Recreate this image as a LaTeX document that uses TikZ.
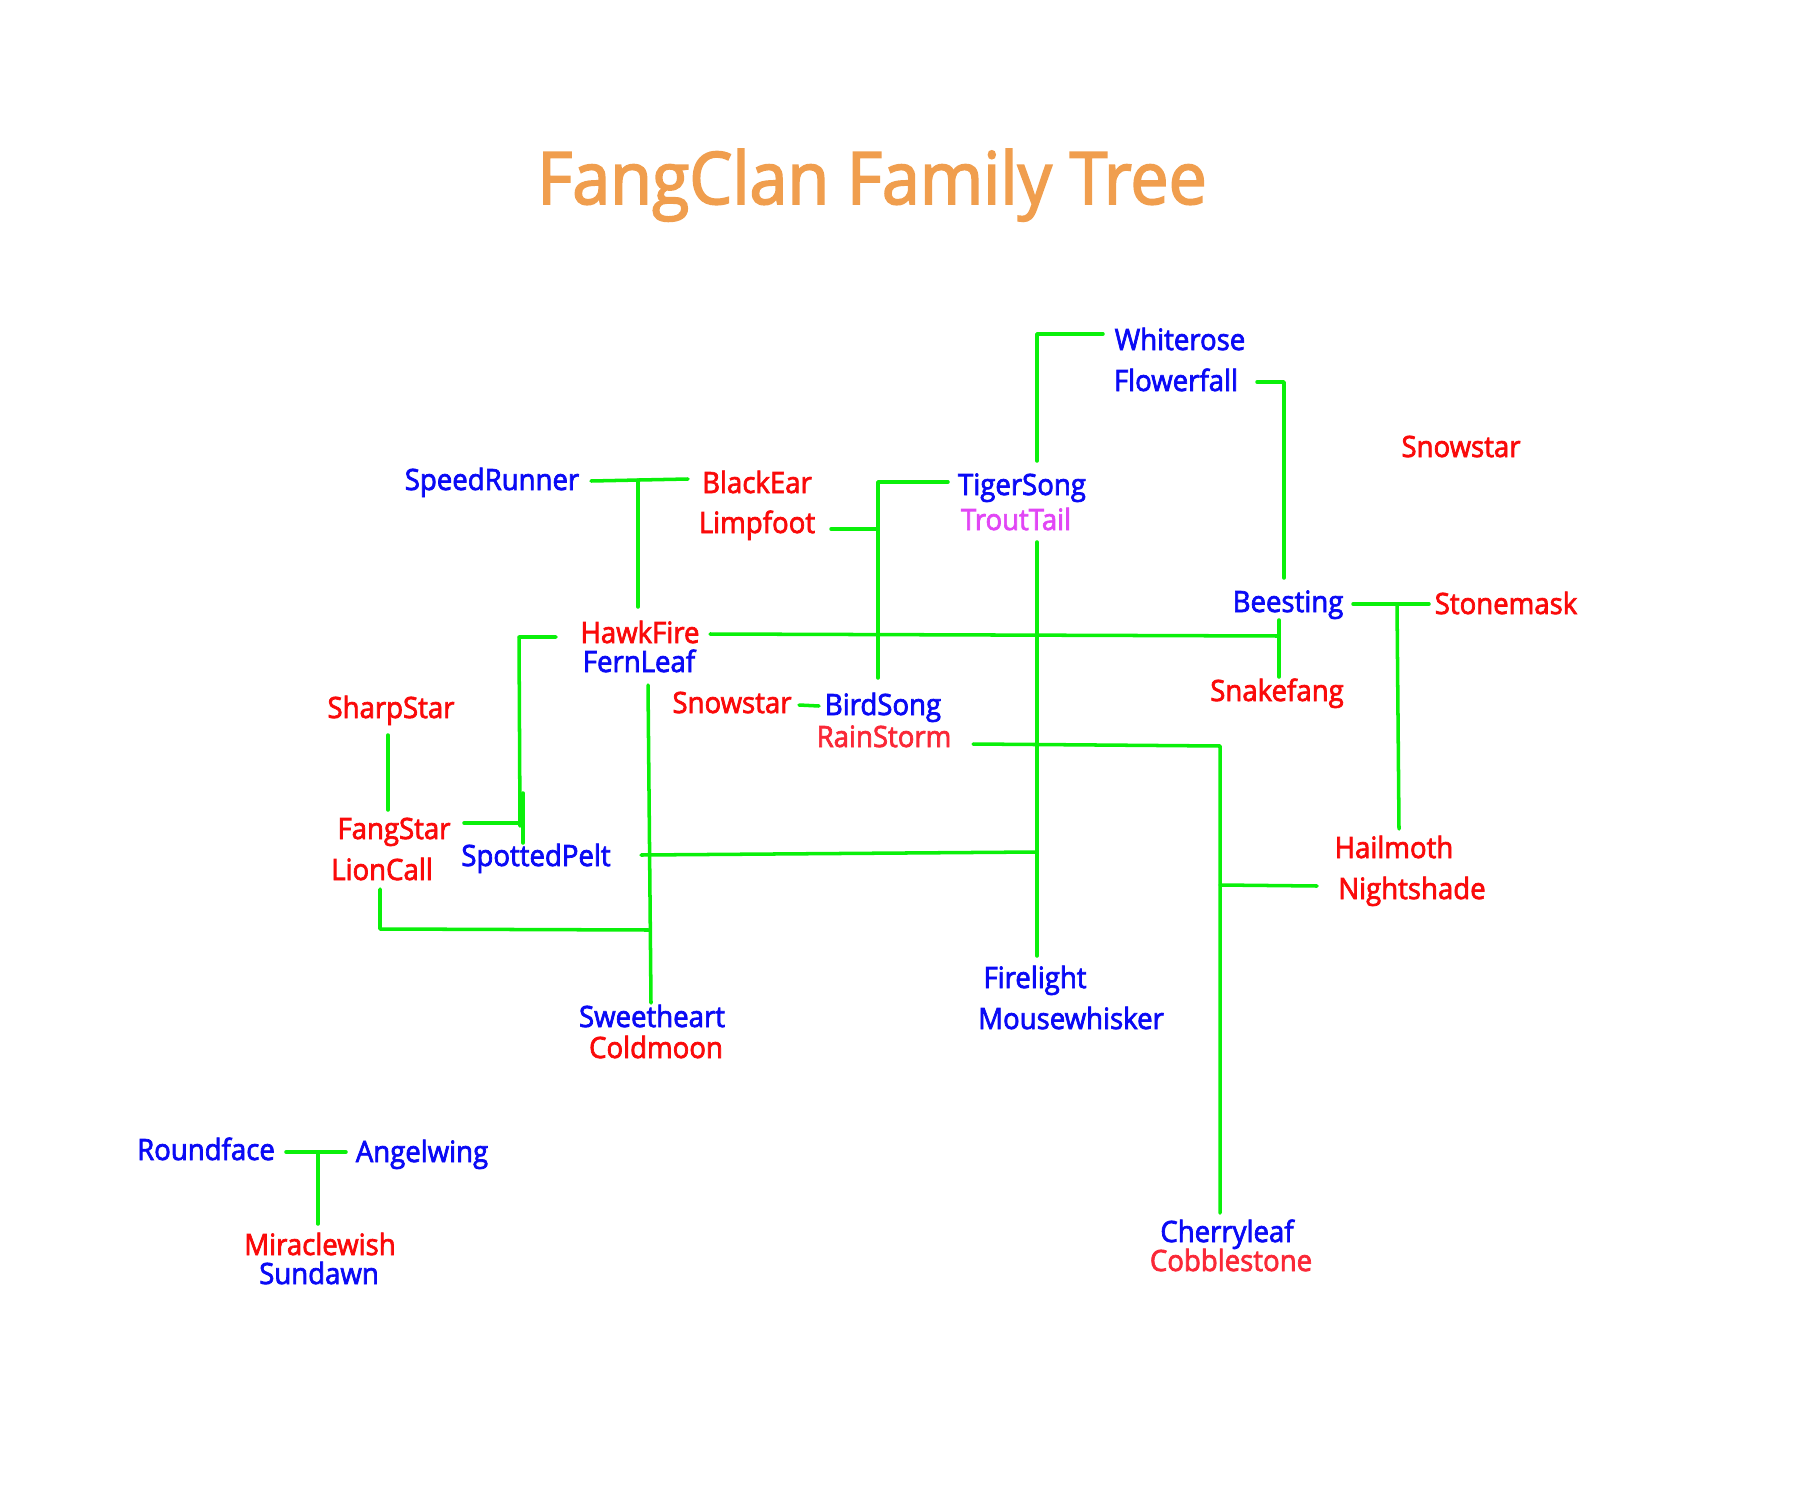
\documentclass[tikz,border=0pt]{standalone}
\usepackage{fontspec}
\setmainfont{Open Sans}[FakeStretch=0.94, FakeBold=2.4]
\definecolor{cblue}{RGB}{10,10,245}
\definecolor{cred}{RGB}{250,10,10}
\definecolor{cred2}{RGB}{250,40,55}
\definecolor{cmag}{RGB}{225,70,245}
\definecolor{lgreen}{RGB}{10,240,10}
\definecolor{ctitle}{RGB}{240,158,78}
\tikzset{
  nm/.style={anchor=base, inner sep=0pt, font=\fontsize{8.34}{10}\selectfont},
  bluename/.style={nm, text=cblue},
  redname/.style={nm, text=cred},
  redname2/.style={nm, text=cred2},
  magname/.style={nm, text=cmag},
  titlestyle/.style={anchor=base, inner sep=0pt, text=ctitle, font=\fontsize{20.6}{24}\selectfont},
  link/.style={draw=lgreen, line width=1pt, line cap=round, line join=round}
}
\begin{document}
\begin{tikzpicture}[x=0.01cm, y=-0.01cm]
\useasboundingbox (0,0) rectangle (1800,1500);
% title
\node[titlestyle] (title) at (872,204) {FangClan Family Tree};
% names
\node[bluename] (whiterose) at (1180,350) {Whiterose};
\node[bluename] (flowerfall) at (1176,391) {Flowerfall};
\node[redname] (snowstarR) at (1461,457) {Snowstar};
\node[bluename] (speedrunner) at (492,490) {SpeedRunner};
\node[redname] (blackear) at (757,493) {BlackEar};
\node[redname] (limpfoot) at (757,533) {Limpfoot};
\node[bluename] (tigersong) at (1022,495) {TigerSong};
\node[magname] (trouttail) at (1016,530) {TroutTail};
\node[bluename] (beesting) at (1288,612) {Beesting};
\node[redname] (stonemask) at (1506,614) {Stonemask};
\node[redname] (hawkfire) at (640,643) {HawkFire};
\node[bluename] (fernleaf) at (639,672) {FernLeaf};
\node[redname] (snakefang) at (1277,701) {Snakefang};
\node[redname] (sharpstar) at (391,718) {SharpStar};
\node[redname] (snowstarM) at (732,713) {Snowstar};
\node[bluename] (birdsong) at (883,715) {BirdSong};
\node[redname2] (rainstorm) at (884,747) {RainStorm};
\node[redname] (fangstar) at (394,839) {FangStar};
\node[redname] (lioncall) at (382,880) {LionCall};
\node[bluename] (spottedpelt) at (536,866) {SpottedPelt};
\node[redname] (hailmoth) at (1394,858) {Hailmoth};
\node[redname] (nightshade) at (1412,899) {Nightshade};
\node[bluename] (firelight) at (1035,988) {Firelight};
\node[bluename] (mousewhisker) at (1071,1029) {Mousewhisker};
\node[bluename] (sweetheart) at (652,1027) {Sweetheart};
\node[redname] (coldmoon) at (656,1058) {Coldmoon};
\node[bluename] (roundface) at (206,1160) {Roundface};
\node[bluename] (angelwing) at (422,1162) {Angelwing};
\node[redname] (miraclewish) at (320,1255) {Miraclewish};
\node[bluename] (sundawn) at (319,1284) {Sundawn};
\node[bluename] (cherryleaf) at (1227,1242) {Cherryleaf};
\node[redname2] (cobblestone) at (1231,1271) {Cobblestone};
% connector points
\coordinate (c1a) at (591,481); \coordinate (c1b) at (688,479);
\coordinate (c1j) at (638,480); \coordinate (c1d) at (638,607);
\coordinate (c2a) at (831,529); \coordinate (c2j) at (878,529);
\coordinate (c2t) at (878,482); \coordinate (c2r) at (948,482); \coordinate (c2d) at (878,678);
\coordinate (c3a) at (1037,461); \coordinate (c3b) at (1037,334); \coordinate (c3c) at (1103,334);
\coordinate (c4a) at (1257,382); \coordinate (c4b) at (1284,382); \coordinate (c4c) at (1284,578);
\coordinate (c5a) at (710,634); \coordinate (c5b) at (1279,636);
\coordinate (c5t) at (1279,620); \coordinate (c5d) at (1279,677);
\coordinate (c6a) at (556,637); \coordinate (c6b) at (519,637); \coordinate (c6c) at (520,826);
\coordinate (c6t) at (523,793); \coordinate (c6d) at (523,843);
\coordinate (c6f) at (464,823); \coordinate (c6g) at (523,823);
\coordinate (c7a) at (388,735); \coordinate (c7b) at (388,810);
\coordinate (c8a) at (648,685); \coordinate (c8b) at (651,1003);
\coordinate (c9a) at (380,889); \coordinate (c9b) at (380,929); \coordinate (c9c) at (649,930);
\coordinate (c10a) at (641,855); \coordinate (c10b) at (1037,852);
\coordinate (c11a) at (1037,542); \coordinate (c11b) at (1037,956);
\coordinate (c12a) at (799,705); \coordinate (c12b) at (819,706);
\coordinate (c13a) at (973,744); \coordinate (c13b) at (1220,746); \coordinate (c13c) at (1220,1213);
\coordinate (c14a) at (1220,885); \coordinate (c14b) at (1317,886);
\coordinate (c15a) at (1353,604); \coordinate (c15b) at (1429,604);
\coordinate (c15j) at (1397,604); \coordinate (c15d) at (1399,829);
\coordinate (c16a) at (286,1152); \coordinate (c16b) at (346,1152);
\coordinate (c16j) at (318,1152); \coordinate (c16d) at (318,1224);
% connectors
\draw[link] (c1a) -- (c1b); \draw[link] (c1j) -- (c1d);
\draw[link] (c2r) -- (c2t) -- (c2d); \draw[link] (c2a) -- (c2j);
\draw[link] (c3a) -- (c3b) -- (c3c);
\draw[link] (c4a) -- (c4b) -- (c4c);
\draw[link] (c5a) -- (c5b); \draw[link] (c5t) -- (c5d);
\draw[link] (c6a) -- (c6b) -- (c6c); \draw[link] (c6t) -- (c6d); \draw[link] (c6f) -- (c6g);
\draw[link] (c7a) -- (c7b);
\draw[link] (c8a) -- (c8b);
\draw[link] (c9a) -- (c9b) -- (c9c);
\draw[link] (c10a) -- (c10b);
\draw[link] (c11a) -- (c11b);
\draw[link] (c12a) -- (c12b);
\draw[link] (c13a) -- (c13b) -- (c13c);
\draw[link] (c14a) -- (c14b);
\draw[link] (c15a) -- (c15b); \draw[link] (c15j) -- (c15d);
\draw[link] (c16a) -- (c16b); \draw[link] (c16j) -- (c16d);
\end{tikzpicture}
\end{document}
